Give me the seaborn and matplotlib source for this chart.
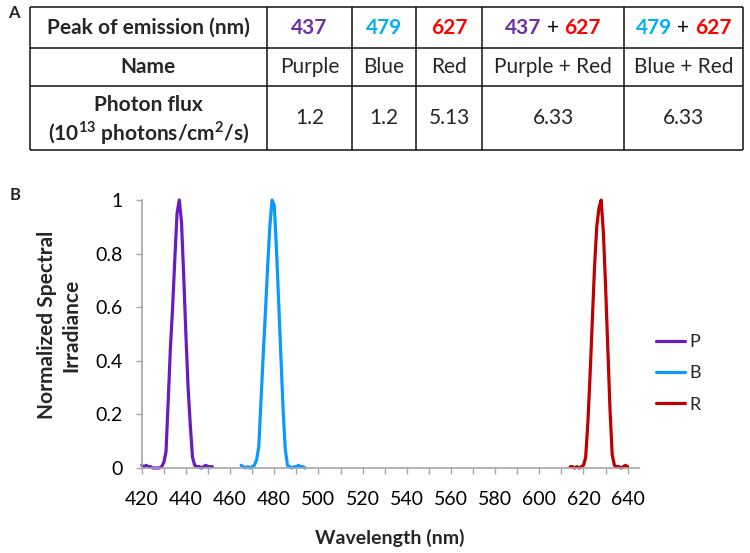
import numpy as np
import pandas as pd
import matplotlib
matplotlib.use("Agg")
import matplotlib.pyplot as plt
import seaborn as sns
from matplotlib.ticker import MultipleLocator, FuncFormatter
from matplotlib.offsetbox import TextArea, HPacker, AnnotationBbox

# ---------------- data ----------------
# table (panel A)
peaks = ["437", "479", "627", "437 + 627", "479 + 627"]
names = ["Purple", "Blue", "Red", "Purple + Red", "Blue + Red"]
flux = ["1.2", "1.2", "5.13", "6.33", "6.33"]

# spectra (panel B)
wl_p = list(range(420, 453))
irr_p = [0.01, 0.005, 0.01, 0.005, 0.005, 0.0, 0.0, 0.0, 0.0, 0.005,
         0.02, 0.06, 0.25, 0.45, 0.60, 0.78, 0.95, 1.0, 0.92, 0.72,
         0.50, 0.30, 0.16, 0.04, 0.01, 0.005, 0.005, 0.0, 0.005, 0.01,
         0.005, 0.005, 0.005]
wl_b = list(range(465, 495))
irr_b = [0.01, 0.005, 0.0, 0.005, 0.0, 0.005, 0.01, 0.03, 0.08, 0.25,
         0.42, 0.58, 0.75, 0.90, 1.0, 0.98, 0.82, 0.62, 0.42, 0.22,
         0.07, 0.01, 0.005, 0.0, 0.005, 0.005, 0.01, 0.005, 0.005, 0.0]
wl_r = list(range(614, 641))
irr_r = [0.005, 0.005, 0.0, 0.005, 0.0, 0.005, 0.01, 0.04, 0.17, 0.35,
         0.55, 0.75, 0.90, 0.97, 1.0, 0.88, 0.68, 0.45, 0.22, 0.05,
         0.01, 0.005, 0.005, 0.0, 0.005, 0.01, 0.005]

df = pd.concat([
    pd.DataFrame({"Wavelength": wl_p, "Irradiance": irr_p, "LED": "P"}),
    pd.DataFrame({"Wavelength": wl_b, "Irradiance": irr_b, "LED": "B"}),
    pd.DataFrame({"Wavelength": wl_r, "Irradiance": irr_r, "LED": "R"}),
])

line_colors = {"P": "#6A1BBF", "B": "#0A99FF", "R": "#C00000"}
txt_purple, txt_blue, txt_red = "#7030A0", "#00B0F0", "#FF0000"

# ---------------- style ----------------
sns.set_theme(style="white")
plt.rcParams["font.family"] = ["Lato", "DejaVu Sans"]
plt.rcParams["mathtext.fontset"] = "custom"
plt.rcParams["mathtext.rm"] = "Lato"
plt.rcParams["mathtext.bf"] = "Lato:bold"

fig = plt.figure(figsize=(7.5, 5.53), dpi=100)

# ---------------- panel A: table ----------------
tab = fig.add_axes([0, 0, 1, 1])
tab.set_xlim(0, 750)
tab.set_ylim(553, 0)
tab.axis("off")

col_x = [30, 267, 352, 416, 482, 624, 743]
row_y = [7, 48, 86, 150]
tab.hlines(row_y, col_x[0], col_x[-1], color="#111111", lw=1.1)
tab.vlines(col_x, row_y[0], row_y[-1], color="#111111", lw=1.1)

fs = 15
cx = [(col_x[i] + col_x[i + 1]) / 2 for i in range(len(col_x) - 1)]
ry = [(row_y[i] + row_y[i + 1]) / 2 for i in range(len(row_y) - 1)]

tab.text(cx[0], ry[0], "Peak of emission (nm)", ha="center", va="center",
         fontsize=fs, fontweight="bold")
tab.text(cx[0], ry[1], "Name", ha="center", va="center",
         fontsize=fs, fontweight="bold")
tab.text(cx[0], 105, "Photon flux", ha="center", va="center",
         fontsize=fs, fontweight="bold")
tab.text(cx[0], 133,
         r"(10$^{\mathbf{13}}$ photons/cm$^{\mathbf{2}}$/s)",
         ha="center", va="center", fontsize=fs, fontweight="bold")

peak_col = {"437": txt_purple, "479": txt_blue, "627": txt_red}
for i, p in enumerate(peaks):
    parts = p.split(" + ")
    kids = []
    for j, part in enumerate(parts):
        if j > 0:
            kids.append(TextArea("+", textprops=dict(color="black",
                                                     fontsize=fs)))
        kids.append(TextArea(part, textprops=dict(color=peak_col[part],
                                                  fontsize=fs,
                                                  fontweight="bold")))
    box = HPacker(children=kids, align="baseline", pad=0, sep=4)
    tab.add_artist(AnnotationBbox(box, (cx[i + 1], ry[0]), xycoords="data",
                                  frameon=False, box_alignment=(0.5, 0.5)))
    tab.text(cx[i + 1], ry[1], names[i], ha="center", va="center", fontsize=fs)
    tab.text(cx[i + 1], ry[2], flux[i], ha="center", va="center", fontsize=fs)

fig.text(8 / 750, 1 - 13 / 553, "A", fontsize=12, fontweight="bold",
         va="center")
fig.text(10 / 750, 1 - 195 / 553, "B", fontsize=12, fontweight="bold",
         va="center")

# ---------------- panel B: spectra ----------------
ax = fig.add_axes([141.7 / 750, 1 - 468 / 553, 497 / 750, 268 / 553])
sns.lineplot(data=df, x="Wavelength", y="Irradiance", hue="LED",
             palette=line_colors, linewidth=2.3, ax=ax, legend=True)
for ln in ax.lines:
    ln.set_clip_on(False)

ax.set_xlim(420, 645)
ax.set_ylim(0, 1)
ax.xaxis.set_major_locator(MultipleLocator(20))
ax.xaxis.set_minor_locator(MultipleLocator(10))
ax.yaxis.set_major_locator(MultipleLocator(0.2))
ax.yaxis.set_major_formatter(FuncFormatter(lambda v, _: f"{v:g}"))

for s in ["top", "right"]:
    ax.spines[s].set_visible(False)
for s in ["left", "bottom"]:
    ax.spines[s].set_color("#A6A6A6")
    ax.spines[s].set_linewidth(1.2)

ax.tick_params(axis="both", which="both", direction="out", length=4.5,
               width=1.0, color="#A6A6A6", labelsize=14, labelcolor="black")
ax.tick_params(axis="x", which="both", bottom=True, pad=12)
ax.tick_params(axis="y", which="major", left=True, pad=9)
ax.set_xlabel("")
ax.set_ylabel("")

fig.text(390 / 750, 1 - 538 / 553, "Wavelength (nm)", ha="center",
         va="center", fontsize=14, fontweight="bold")
fig.text(59 / 750, 1 - 325 / 553, "Normalized Spectral\nIrradiance",
         ha="center", va="center", rotation=90, fontsize=15,
         fontweight="bold", linespacing=1.3, multialignment="center")

leg = ax.legend(title=None, frameon=False, loc="upper left",
                bbox_to_anchor=(656 / 750, 1 - 334 / 553),
                bbox_transform=fig.transFigure, fontsize=13,
                handlelength=1.6, handletextpad=0.25, labelspacing=0.85,
                borderpad=0, borderaxespad=0)
for h in leg.get_lines():
    h.set_linewidth(2.3)

fig.savefig("out.png", dpi=100)
